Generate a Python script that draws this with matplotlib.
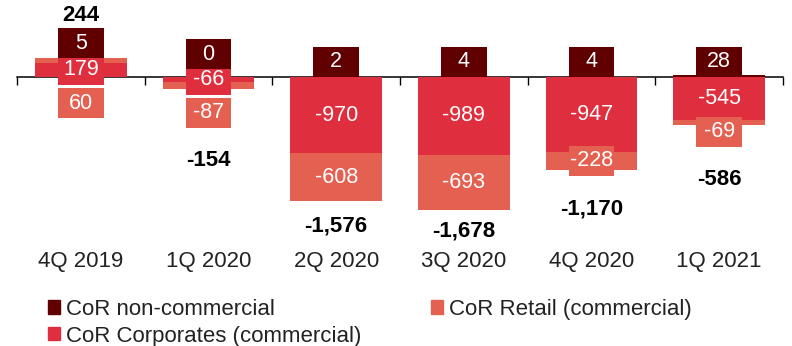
import matplotlib
matplotlib.use("Agg")
import matplotlib.pyplot as plt
from matplotlib.patches import Rectangle, Patch
from matplotlib.transforms import blended_transform_factory
import numpy as np

plt.rcParams["font.family"] = ["Liberation Sans", "DejaVu Sans"]

# ── data ──
quarters = ["4Q 2019", "1Q 2020", "2Q 2020", "3Q 2020", "4Q 2020", "1Q 2021"]
non_commercial = [5, 0, 2, 4, 4, 28]
corporates = [179, -66, -970, -989, -947, -545]
retail = [60, -87, -608, -693, -228, -69]
totals = [244, -154, -1576, -1678, -1170, -586]

C_NONCOM = "#600000"
C_CORP = "#DF2F3E"
C_RETAIL = "#E46151"

fig = plt.figure(figsize=(7.92, 3.46), dpi=100)
ax = fig.add_axes([17 / 792, 0, 766 / 792, 1])
ax.set_xlim(-0.5, 5.5)
ax.set_ylim(-3411, 976)

x = np.arange(len(quarters))
W = 0.72        # bar width
BOX_W = 0.36    # label box width
BOX_H = 380     # label box height (data units)
STEP = 420      # min distance between stacked labels
GAP_BAR = 270   # total label below bar end
GAP_BOX = 420   # total label below lowest label box

# stacked bars
pos_base = np.zeros(len(x))
neg_base = np.zeros(len(x))
centers = {}
for name, vals, col in [("corp", corporates, C_CORP),
                        ("retail", retail, C_RETAIL),
                        ("noncom", non_commercial, C_NONCOM)]:
    v = np.array(vals, dtype=float)
    bottom = np.where(v >= 0, pos_base, neg_base)
    ax.bar(x, v, W, bottom=bottom, color=col, linewidth=0, zorder=2)
    centers[name] = bottom + v / 2
    if name != "noncom":
        pos_base = pos_base + np.where(v >= 0, v, 0)
        neg_base = neg_base + np.where(v < 0, v, 0)


def box_label(xc, yc, text, color):
    ax.add_patch(Rectangle((xc - BOX_W / 2, yc - BOX_H / 2), BOX_W, BOX_H,
                           facecolor=color, edgecolor="none", zorder=3))
    ax.text(xc, yc, text, ha="center", va="center", color="white",
            fontsize=15.5, zorder=4)


for i in x:
    y1 = centers["corp"][i]
    y2 = min(centers["retail"][i], y1 - STEP)
    box_label(i, y1, f"{corporates[i]:,}", C_CORP)
    box_label(i, y2, f"{retail[i]:,}", C_RETAIL)

    # non-commercial box sits above the axis / positive stack
    y3 = max(max(0, pos_base[i]) + BOX_H / 2, max(y1, y2) + BOX_H * 0.85)
    box_label(i, y3, f"{non_commercial[i]:,}", C_NONCOM)

    if totals[i] >= 0:
        yt = y3 + BOX_H / 2 + 160
    else:
        yt = min(neg_base[i] - GAP_BAR, y2 - BOX_H / 2 - GAP_BOX)
    ax.text(i, yt, f"{totals[i]:,}", ha="center", va="center",
            fontsize=16, fontweight="bold", color="black", zorder=4)

# axis at zero with boundary ticks
for s in ["top", "right", "left"]:
    ax.spines[s].set_visible(False)
ax.spines["bottom"].set_position(("data", 0))
ax.spines["bottom"].set_linewidth(1.1)
ax.spines["bottom"].set_zorder(1)
ax.set_yticks([])
ax.set_xticks(np.arange(-0.5, len(x), 1))
ax.set_xticklabels([])
ax.tick_params(axis="x", direction="out", length=6, width=1, color="black")

trans = blended_transform_factory(ax.transData, ax.transAxes)
for i, q in enumerate(quarters):
    ax.text(i, 1 - 262 / 346, q, transform=trans, ha="center", va="center",
            fontsize=16, color="#222222")

handles = [Patch(color=C_NONCOM, label="CoR non-commercial"),
           Patch(color=C_CORP, label="CoR Corporates (commercial)"),
           Patch(color=C_RETAIL, label="CoR Retail (commercial)")]
fig.legend(handles=handles, ncol=2, loc="upper left",
           bbox_to_anchor=(48 / 792, 1 - 299 / 346), frameon=False,
           fontsize=16, handlelength=0.55, handleheight=0.55,
           handletextpad=0.25, columnspacing=3.15, labelspacing=0.25,
           borderpad=0, borderaxespad=0, labelcolor="#222222")

fig.savefig("out.png", dpi=100)
